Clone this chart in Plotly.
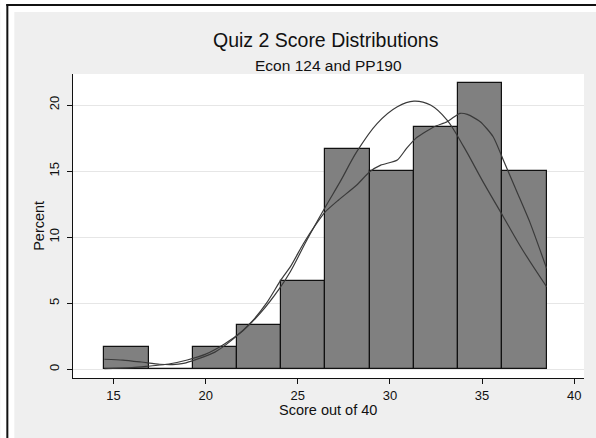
import numpy as np
import plotly.graph_objects as go

# ---- data ----
bin_edges = [14.5, 16.9, 19.3, 21.7, 24.1, 26.5, 28.9, 31.3, 33.7, 36.1, 38.5]
bin_percent = [1.67, 0.0, 1.67, 3.33, 6.67, 16.67, 15.0, 18.33, 21.67, 15.0]

normal_x = [14.5, 16.0, 17.0, 18.0, 19.0, 20.0, 21.0, 22.0, 23.0, 24.0, 24.6,
            25.5, 26.5, 27.3, 28.2, 29.3, 30.4, 31.3, 32.2, 33.1, 34.0, 35.1,
            36.15, 37.2, 38.5]
normal_y = [0.04, 0.12, 0.25, 0.4, 0.7, 1.15, 1.9, 2.9, 4.3, 6.1, 7.4,
            9.8, 12.3, 14.2, 16.47, 18.6, 19.87, 20.3, 20.0, 18.86, 16.85, 14.07,
            11.55, 9.03, 6.25]

kernel_x = [14.5, 15.5, 16.5, 17.5, 18.2, 18.8, 19.5, 20.5, 21.5, 22.5, 23.3,
            24.1, 24.6, 25.3, 26.0, 26.5, 27.2, 28.2, 28.9, 29.5, 30.4, 30.9,
            31.4, 31.8, 32.4, 33.1, 33.45, 33.8, 34.2, 34.9, 35.6, 36.15, 36.9,
            37.6, 38.5]
kernel_y = [0.76, 0.7, 0.55, 0.38, 0.35, 0.45, 0.75, 1.3, 2.3, 3.6, 5.0,
            6.8, 7.77, 9.5, 11.0, 11.93, 12.8, 13.95, 14.95, 15.45, 15.84, 16.72,
            17.48, 17.86, 18.36, 18.74, 19.07, 19.37, 19.29, 18.74, 17.6, 15.84, 13.4,
            11.1, 7.64]

x_ticks = [15, 20, 25, 30, 35, 40]
y_ticks = [0, 5, 10, 15, 20]

title_text = "Quiz 2 Score Distributions"
subtitle_text = "Econ 124 and PP190"
x_title = "Score out of 40"
y_title = "Percent"

# ---- layout geometry (pixels) ----
W, H = 596, 438
L, R_EDGE, T, B_EDGE = 72.7, 584.0, 74.0, 378.0
PW, PH = R_EDGE - L, B_EDGE - T

def px_x(px):
    return (px - L) / PW

def px_y(py):
    return (B_EDGE - py) / PH

edges = np.array(bin_edges)
centers = (edges[:-1] + edges[1:]) / 2
widths = np.diff(edges)

fig = go.Figure()
fig.add_trace(go.Bar(
    x=centers, y=bin_percent, width=widths,
    marker=dict(color="#808080", line=dict(color="#111111", width=1.2)),
    hoverinfo="skip", showlegend=False,
))
fig.add_trace(go.Scatter(
    x=normal_x, y=normal_y, mode="lines",
    line=dict(color="#3a3a3a", width=1.2, shape="spline", smoothing=1.0),
    showlegend=False,
))
fig.add_trace(go.Scatter(
    x=kernel_x, y=kernel_y, mode="lines",
    line=dict(color="#3a3a3a", width=1.2, shape="spline", smoothing=0.6),
    showlegend=False,
))

font = "Liberation Sans, Arial, sans-serif"

fig.update_layout(
    width=W, height=H,
    margin=dict(l=L, r=W - R_EDGE, t=T, b=H - B_EDGE, pad=0),
    paper_bgcolor="#efefef",
    plot_bgcolor="white",
    bargap=0,
    font=dict(family=font, color="#111111", size=13),
    xaxis=dict(
        range=[12.8, 40.53], tickvals=x_ticks, ticks="outside", ticklen=5,
        tickcolor="#111111", showline=True, linecolor="#111111", linewidth=1.2,
        showgrid=False, zeroline=False, tickfont=dict(size=13),
    ),
    yaxis=dict(
        range=[-0.66, 22.35], tickvals=y_ticks, ticks="outside", ticklen=5,
        tickcolor="#111111", showline=True, linecolor="#111111", linewidth=1.2,
        showgrid=True, gridcolor="#e6e6e6", gridwidth=1, zeroline=False,
        tickangle=-90, tickfont=dict(size=13), ticklabelstandoff=3,
    ),
    annotations=[
        dict(text=title_text, xref="paper", yref="paper", x=px_x(326), y=px_y(39.5),
             showarrow=False, xanchor="center", yanchor="middle",
             font=dict(size=19.5, family=font, color="#111111")),
        dict(text=subtitle_text, xref="paper", yref="paper", x=px_x(328), y=px_y(65),
             showarrow=False, xanchor="center", yanchor="middle",
             font=dict(size=15.5, family=font, color="#111111")),
        dict(text=x_title, xref="paper", yref="paper", x=px_x(328), y=px_y(409.5),
             showarrow=False, xanchor="center", yanchor="middle",
             font=dict(size=14.5, family=font, color="#111111")),
        dict(text=y_title, xref="paper", yref="paper", x=px_x(38.5), y=px_y(226),
             showarrow=False, xanchor="center", yanchor="middle", textangle=-90,
             font=dict(size=14.5, family=font, color="#111111")),
    ],
    shapes=[
        # white frame strips outside the gray region
        dict(type="rect", xref="paper", yref="paper", x0=px_x(0), x1=px_x(14),
             y0=px_y(H), y1=px_y(0), fillcolor="white", line=dict(width=0), layer="below"),
        dict(type="rect", xref="paper", yref="paper", x0=px_x(0), x1=px_x(W),
             y0=px_y(12), y1=px_y(0), fillcolor="white", line=dict(width=0), layer="below"),
        # black border lines
        dict(type="line", xref="paper", yref="paper", x0=px_x(7), x1=px_x(7),
             y0=px_y(H), y1=px_y(4), line=dict(color="#111111", width=2)),
        dict(type="line", xref="paper", yref="paper", x0=px_x(6), x1=px_x(W),
             y0=px_y(5), y1=px_y(5), line=dict(color="#111111", width=2)),
    ],
)

fig.write_html(
    "out.html",
    config={"displayModeBar": False},
    post_script="document.body.style.margin='0';document.body.style.overflow='hidden';",
)
